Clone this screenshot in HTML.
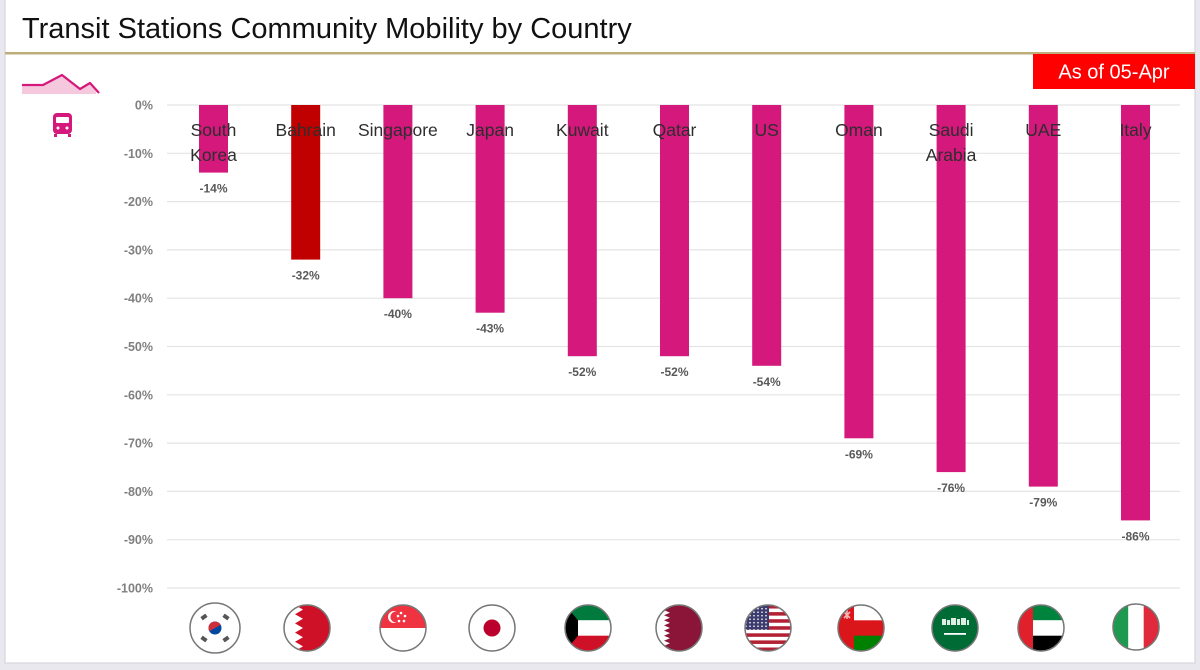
<!DOCTYPE html>
<html>
<head>
<meta charset="utf-8">
<style>
  html,body{margin:0;padding:0;background:#e8e8ee;}
  svg{display:block;}
  text{font-family:"Liberation Sans", Arial, sans-serif;}
</style>
</head>
<body>
<svg width="1200" height="670" viewBox="0 0 1200 670" xmlns="http://www.w3.org/2000/svg">
  <defs>
    <clipPath id="cc"><circle cx="0" cy="0" r="23"/></clipPath>
    <clipPath id="cc2"><circle cx="0" cy="0" r="25"/></clipPath>
    <pattern id="stars" x="0" y="0" width="4" height="3.5" patternUnits="userSpaceOnUse">
      <circle cx="2" cy="1.7" r="0.8" fill="#ffffff"/>
    </pattern>
  </defs>

  <!-- page background & card -->
  <rect x="0" y="0" width="1200" height="670" fill="#e8e8ee"/>
  <rect x="5" y="-5" width="1190" height="668" fill="#ffffff" stroke="#d6d6de" stroke-width="1.2"/>

  <!-- title -->
  <text x="22" y="38" font-size="29" fill="#111">Transit Stations Community Mobility by Country</text>
  <rect x="5" y="52" width="1190" height="2.5" fill="#bfae7c"/>

  <!-- As of box -->
  <rect x="1033" y="54" width="162" height="35" fill="#ff0000"/>
  <text x="1114" y="78.5" font-size="20" fill="#ffffff" text-anchor="middle">As of 05-Apr</text>

  <!-- sparkline icon -->
  <polygon points="22,85 43,85 62,75 80,89 90,83 96,92 96,94 22,94" fill="#f6c8dd"/>
  <polyline points="22,85 43,85 62,75 80,89 90,83 99,93" fill="none" stroke="#d4187c" stroke-width="2.2" stroke-linejoin="round"/>
  <!-- train icon -->
  <g>
    <rect x="53" y="113" width="19" height="21" rx="4" fill="#d4187c"/>
    <rect x="56" y="117" width="13" height="6" rx="1" fill="#ffffff"/>
    <circle cx="58" cy="128" r="1.5" fill="#ffffff"/>
    <circle cx="67" cy="128" r="1.5" fill="#ffffff"/>
    <rect x="54" y="134" width="3" height="3" fill="#d4187c"/>
    <rect x="68" y="134" width="3" height="3" fill="#d4187c"/>
  </g>

  <!-- gridlines -->
  <g stroke="#e4e4e4" stroke-width="1.2">
    <line x1="167" y1="105" x2="1180" y2="105"/>
    <line x1="167" y1="153.3" x2="1180" y2="153.3"/>
    <line x1="167" y1="201.6" x2="1180" y2="201.6"/>
    <line x1="167" y1="249.9" x2="1180" y2="249.9"/>
    <line x1="167" y1="298.2" x2="1180" y2="298.2"/>
    <line x1="167" y1="346.5" x2="1180" y2="346.5"/>
    <line x1="167" y1="394.8" x2="1180" y2="394.8"/>
    <line x1="167" y1="443.1" x2="1180" y2="443.1"/>
    <line x1="167" y1="491.4" x2="1180" y2="491.4"/>
    <line x1="167" y1="539.7" x2="1180" y2="539.7"/>
    <line x1="167" y1="588" x2="1180" y2="588"/>
  </g>

  <!-- y axis labels -->
  <g font-size="12.5" font-weight="bold" fill="#808080" text-anchor="end">
    <text x="153" y="109.5">0%</text>
    <text x="153" y="157.8">-10%</text>
    <text x="153" y="206.1">-20%</text>
    <text x="153" y="254.4">-30%</text>
    <text x="153" y="302.7">-40%</text>
    <text x="153" y="351">-50%</text>
    <text x="153" y="399.3">-60%</text>
    <text x="153" y="447.6">-70%</text>
    <text x="153" y="495.9">-80%</text>
    <text x="153" y="544.2">-90%</text>
    <text x="153" y="592.5">-100%</text>
  </g>

  <!-- bars -->
  <g fill="#d4187c">
    <rect x="199" y="105" width="29" height="67.6"/>
    <rect x="291.2" y="105" width="29" height="154.6" fill="#c00000"/>
    <rect x="383.4" y="105" width="29" height="193.2"/>
    <rect x="475.6" y="105" width="29" height="207.7"/>
    <rect x="567.8" y="105" width="29" height="251.2"/>
    <rect x="660" y="105" width="29" height="251.2"/>
    <rect x="752.2" y="105" width="29" height="260.8"/>
    <rect x="844.4" y="105" width="29" height="333.3"/>
    <rect x="936.6" y="105" width="29" height="367.1"/>
    <rect x="1028.8" y="105" width="29" height="381.6"/>
    <rect x="1121" y="105" width="29" height="415.4"/>
  </g>

  <!-- value labels -->
  <g font-size="12" font-weight="bold" fill="#595959" text-anchor="middle">
    <text x="213.5" y="192.6">-14%</text>
    <text x="305.7" y="279.6">-32%</text>
    <text x="397.9" y="318.2">-40%</text>
    <text x="490.1" y="332.7">-43%</text>
    <text x="582.3" y="376.2">-52%</text>
    <text x="674.5" y="376.2">-52%</text>
    <text x="766.7" y="385.8">-54%</text>
    <text x="858.9" y="458.3">-69%</text>
    <text x="951.1" y="492.1">-76%</text>
    <text x="1043.3" y="506.6">-79%</text>
    <text x="1135.5" y="540.4">-86%</text>
  </g>

  <!-- category labels -->
  <g font-size="17.5" fill="#2e2e2e" text-anchor="middle">
    <text x="213.5" y="136">South</text>
    <text x="213.5" y="161">Korea</text>
    <text x="305.7" y="136">Bahrain</text>
    <text x="397.9" y="136">Singapore</text>
    <text x="490.1" y="136">Japan</text>
    <text x="582.3" y="136">Kuwait</text>
    <text x="674.5" y="136">Qatar</text>
    <text x="766.7" y="136">US</text>
    <text x="858.9" y="136">Oman</text>
    <text x="951.1" y="136">Saudi</text>
    <text x="951.1" y="161">Arabia</text>
    <text x="1043.3" y="136">UAE</text>
    <text x="1135.5" y="136">Italy</text>
  </g>

  <!-- flags -->
  <!-- South Korea -->
  <g transform="translate(215,628)">
    <g clip-path="url(#cc2)">
      <rect x="-25" y="-25" width="50" height="50" fill="#ffffff"/>
      <circle cx="0" cy="0" r="6.5" fill="#0047a0"/>
      <path d="M-6.5,0 A6.5,6.5 0 0 1 6.5,0 Z" fill="#cd2e3a" transform="rotate(-30)"/>
      <g fill="#555">
        <rect x="-14" y="-13" width="6" height="4" transform="rotate(-35 -11 -11)"/>
        <rect x="8" y="-13" width="6" height="4" transform="rotate(35 11 -11)"/>
        <rect x="-14" y="9" width="6" height="4" transform="rotate(35 -11 11)"/>
        <rect x="8" y="9" width="6" height="4" transform="rotate(-35 11 11)"/>
      </g>
    </g>
    <circle cx="0" cy="0" r="25" fill="none" stroke="#777" stroke-width="1.5"/>
  </g>
  <!-- Bahrain -->
  <g transform="translate(307,628)">
    <g clip-path="url(#cc)">
      <rect x="-23" y="-23" width="46" height="46" fill="#ce1126"/>
      <polygon points="-23,-23 -12,-23 -4,-18.4 -12,-13.8 -4,-9.2 -12,-4.6 -4,0 -12,4.6 -4,9.2 -12,13.8 -4,18.4 -12,23 -23,23" fill="#ffffff"/>
    </g>
    <circle cx="0" cy="0" r="23" fill="none" stroke="#777" stroke-width="1.5"/>
  </g>
  <!-- Singapore -->
  <g transform="translate(403,628)">
    <g clip-path="url(#cc)">
      <rect x="-23" y="-23" width="46" height="46" fill="#ffffff"/>
      <rect x="-23" y="-23" width="46" height="23" fill="#ef3340"/>
      <circle cx="-9" cy="-11" r="6" fill="#ffffff"/>
      <circle cx="-7" cy="-11" r="5.5" fill="#ef3340"/>
      <g fill="#ffffff">
        <circle cx="-2" cy="-15" r="1.3"/>
        <circle cx="2" cy="-12" r="1.3"/>
        <circle cx="1" cy="-7" r="1.3"/>
        <circle cx="-4" cy="-7" r="1.3"/>
        <circle cx="-5" cy="-12" r="1.3"/>
      </g>
    </g>
    <circle cx="0" cy="0" r="23" fill="none" stroke="#777" stroke-width="1.5"/>
  </g>
  <!-- Japan -->
  <g transform="translate(492,628)">
    <g clip-path="url(#cc)">
      <rect x="-23" y="-23" width="46" height="46" fill="#ffffff"/>
      <circle cx="0" cy="0" r="8.5" fill="#bc002d"/>
    </g>
    <circle cx="0" cy="0" r="23" fill="none" stroke="#777" stroke-width="1.5"/>
  </g>
  <!-- Kuwait -->
  <g transform="translate(588,628)">
    <g clip-path="url(#cc)">
      <rect x="-23" y="-23" width="46" height="15.3" fill="#007a3d"/>
      <rect x="-23" y="-7.7" width="46" height="15.4" fill="#ffffff"/>
      <rect x="-23" y="7.7" width="46" height="15.3" fill="#ce1126"/>
      <polygon points="-23,-23 -10,-7.7 -10,7.7 -23,23" fill="#000000"/>
    </g>
    <circle cx="0" cy="0" r="23" fill="none" stroke="#777" stroke-width="1.5"/>
  </g>
  <!-- Qatar -->
  <g transform="translate(679,628)">
    <g clip-path="url(#cc)">
      <rect x="-23" y="-23" width="46" height="46" fill="#8a1538"/>
      <polygon points="-23,-23 -15,-23 -9,-20.4 -15,-17.9 -9,-15.3 -15,-12.8 -9,-10.2 -15,-7.7 -9,-5.1 -15,-2.6 -9,0 -15,2.6 -9,5.1 -15,7.7 -9,10.2 -15,12.8 -9,15.3 -15,17.9 -9,20.4 -15,23 -23,23" fill="#ffffff"/>
    </g>
    <circle cx="0" cy="0" r="23" fill="none" stroke="#777" stroke-width="1.5"/>
  </g>
  <!-- US -->
  <g transform="translate(768,628)">
    <g clip-path="url(#cc)">
      <rect x="-23" y="-23" width="46" height="46" fill="#ffffff"/>
      <g fill="#b22234">
        <rect x="-23" y="-23" width="46" height="3.54"/>
        <rect x="-23" y="-15.9" width="46" height="3.54"/>
        <rect x="-23" y="-8.8" width="46" height="3.54"/>
        <rect x="-23" y="-1.8" width="46" height="3.54"/>
        <rect x="-23" y="5.3" width="46" height="3.54"/>
        <rect x="-23" y="12.4" width="46" height="3.54"/>
        <rect x="-23" y="19.5" width="46" height="3.54"/>
      </g>
      <rect x="-23" y="-23" width="24" height="24.8" fill="#3c3b6e"/>
      <rect x="-23" y="-23" width="24" height="24.8" fill="url(#stars)"/>
    </g>
    <circle cx="0" cy="0" r="23" fill="none" stroke="#777" stroke-width="1.5"/>
  </g>
  <!-- Oman -->
  <g transform="translate(861,628)">
    <g clip-path="url(#cc)">
      <rect x="-23" y="-23" width="46" height="46" fill="#db161b"/>
      <rect x="-7" y="-23" width="30" height="15.3" fill="#ffffff"/>
      <rect x="-7" y="7.7" width="30" height="15.3" fill="#008000"/>
      <path d="M-17,-16 L-11,-10 M-11,-16 L-17,-10 M-14,-18 L-14,-9" stroke="#f5b5b5" stroke-width="1.6"/>
    </g>
    <circle cx="0" cy="0" r="23" fill="none" stroke="#777" stroke-width="1.5"/>
  </g>
  <!-- Saudi Arabia -->
  <g transform="translate(955,628)">
    <g clip-path="url(#cc)">
      <rect x="-23" y="-23" width="46" height="46" fill="#006c35"/>
      <g fill="#dfeee5">
        <rect x="-13" y="-9" width="4" height="6"/>
        <rect x="-8" y="-8" width="3" height="5"/>
        <rect x="-4" y="-10" width="5" height="7"/>
        <rect x="2" y="-9" width="3" height="6"/>
        <rect x="6" y="-10" width="5" height="7"/>
        <rect x="12" y="-8" width="2" height="5"/>
      </g>
      <rect x="-11" y="5" width="22" height="1.8" fill="#ffffff"/>
    </g>
    <circle cx="0" cy="0" r="23" fill="none" stroke="#777" stroke-width="1.5"/>
  </g>
  <!-- UAE -->
  <g transform="translate(1041,628)">
    <g clip-path="url(#cc)">
      <rect x="-23" y="-23" width="46" height="15.3" fill="#00843d"/>
      <rect x="-23" y="-7.7" width="46" height="15.4" fill="#ffffff"/>
      <rect x="-23" y="7.7" width="46" height="15.3" fill="#000000"/>
      <rect x="-23" y="-23" width="15" height="46" fill="#e0202b"/>
    </g>
    <circle cx="0" cy="0" r="23" fill="none" stroke="#777" stroke-width="1.5"/>
  </g>
  <!-- Italy -->
  <g transform="translate(1136,627)">
    <g clip-path="url(#cc)">
      <rect x="-23" y="-23" width="15.3" height="46" fill="#1d9a4f"/>
      <rect x="-7.7" y="-23" width="15.4" height="46" fill="#ffffff"/>
      <rect x="7.7" y="-23" width="15.3" height="46" fill="#e0293a"/>
    </g>
    <circle cx="0" cy="0" r="23" fill="none" stroke="#777" stroke-width="1.5"/>
  </g>
</svg>
</body>
</html>
